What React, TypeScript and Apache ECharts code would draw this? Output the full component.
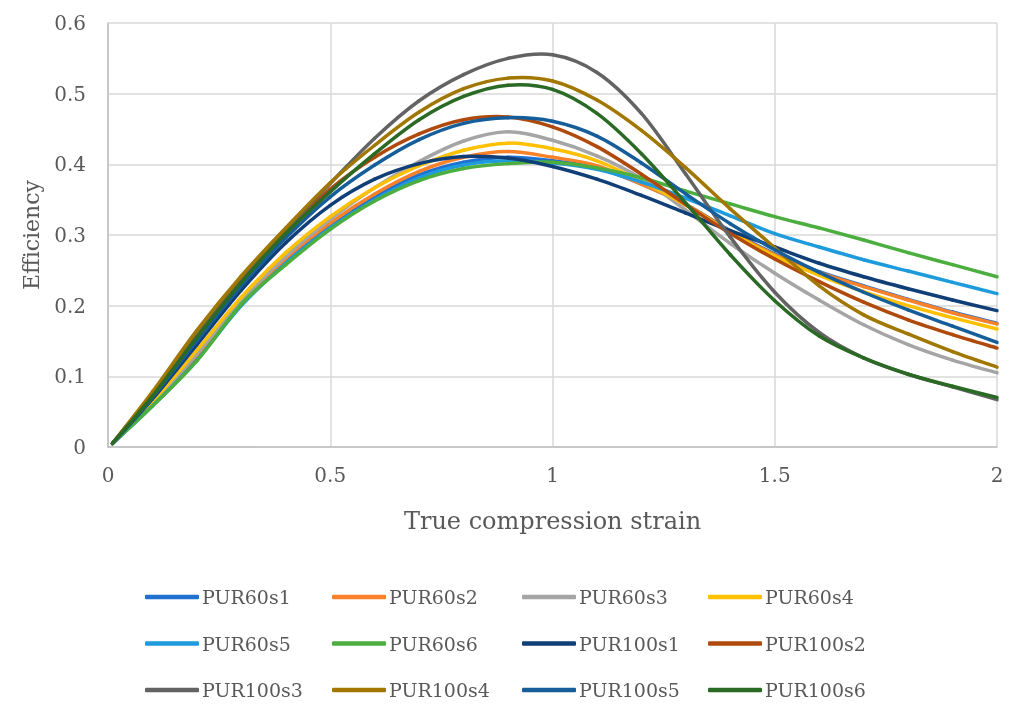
import React, { useEffect, useRef } from "react";
import * as echarts from "echarts";

const strain = [0.01, 0.1, 0.2, 0.3, 0.4, 0.5, 0.6, 0.7, 0.8, 0.9, 1.0, 1.1, 1.2, 1.3, 1.4, 1.5, 1.6, 1.7, 1.8, 1.9, 2.0];

const seriesNames = [
  "PUR60s1", "PUR60s2", "PUR60s3", "PUR60s4",
  "PUR60s5", "PUR60s6", "PUR100s1", "PUR100s2",
  "PUR100s3", "PUR100s4", "PUR100s5", "PUR100s6",
];

const colors = [
  "#2070D0", "#F8812A", "#A5A5A5", "#FFC000",
  "#1E9BDC", "#4BAE3E", "#103F78", "#B04A0C",
  "#636363", "#A17700", "#165E9A", "#2A6A25",
];

const pur60s1 = [0.005, 0.06, 0.127, 0.203, 0.264, 0.314, 0.354, 0.385, 0.403, 0.41, 0.405, 0.395, 0.372, 0.343, 0.306, 0.273, 0.248, 0.228, 0.209, 0.191, 0.175];
const pur60s2 = [0.005, 0.061, 0.13, 0.205, 0.267, 0.317, 0.358, 0.39, 0.41, 0.418, 0.41, 0.398, 0.372, 0.343, 0.305, 0.272, 0.247, 0.227, 0.208, 0.19, 0.174];
const pur60s3 = [0.005, 0.062, 0.132, 0.207, 0.27, 0.322, 0.367, 0.404, 0.433, 0.446, 0.434, 0.412, 0.38, 0.335, 0.288, 0.246, 0.208, 0.173, 0.145, 0.123, 0.105];
const pur60s4 = [0.005, 0.064, 0.137, 0.212, 0.275, 0.326, 0.367, 0.398, 0.42, 0.43, 0.422, 0.405, 0.376, 0.342, 0.304, 0.27, 0.243, 0.22, 0.2, 0.183, 0.167];
const pur60s5 = [0.005, 0.058, 0.123, 0.2, 0.26, 0.31, 0.35, 0.381, 0.399, 0.405, 0.402, 0.393, 0.375, 0.352, 0.327, 0.302, 0.283, 0.265, 0.249, 0.233, 0.217];
const pur60s6 = [0.005, 0.058, 0.122, 0.202, 0.258, 0.308, 0.348, 0.377, 0.394, 0.401, 0.403, 0.395, 0.381, 0.362, 0.344, 0.326, 0.31, 0.293, 0.275, 0.258, 0.241];
const pur100s1 = [0.005, 0.068, 0.145, 0.222, 0.289, 0.342, 0.379, 0.401, 0.411, 0.409, 0.397, 0.379, 0.356, 0.331, 0.306, 0.283, 0.26, 0.241, 0.224, 0.208, 0.193];
const pur100s2 = [0.005, 0.075, 0.16, 0.237, 0.305, 0.365, 0.41, 0.443, 0.463, 0.467, 0.453, 0.425, 0.386, 0.343, 0.302, 0.266, 0.234, 0.205, 0.18, 0.159, 0.14];
const pur100s3 = [0.005, 0.076, 0.163, 0.24, 0.308, 0.373, 0.437, 0.49, 0.527, 0.55, 0.555, 0.53, 0.472, 0.386, 0.297, 0.219, 0.162, 0.126, 0.103, 0.085, 0.067];
const pur100s4 = [0.005, 0.078, 0.165, 0.242, 0.31, 0.374, 0.427, 0.474, 0.507, 0.522, 0.518, 0.491, 0.448, 0.395, 0.337, 0.282, 0.228, 0.187, 0.16, 0.135, 0.113];
const pur100s5 = [0.005, 0.07, 0.15, 0.228, 0.296, 0.354, 0.399, 0.435, 0.458, 0.466, 0.461, 0.44, 0.402, 0.358, 0.316, 0.279, 0.247, 0.219, 0.194, 0.171, 0.148];
const pur100s6 = [0.005, 0.072, 0.155, 0.233, 0.302, 0.361, 0.415, 0.463, 0.496, 0.512, 0.506, 0.472, 0.415, 0.345, 0.272, 0.207, 0.157, 0.126, 0.103, 0.086, 0.07];

const allValues = [pur60s1, pur60s2, pur60s3, pur60s4, pur60s5, pur60s6, pur100s1, pur100s2, pur100s3, pur100s4, pur100s5, pur100s6];

const xTicks = [0, 0.5, 1, 1.5, 2];
const yTicks = [0, 0.1, 0.2, 0.3, 0.4, 0.5, 0.6];

const FONT = "DejaVu Serif";
const TEXT = "#595959";

export default function App() {
  const ref = useRef<HTMLDivElement>(null);
  useEffect(() => {
    if (!ref.current) return;
    const chart = echarts.init(ref.current, undefined, { renderer: "svg" });
    const colLeft = [140, 327, 517, 703];
    const legends = colLeft.map((left, c) => ({
      orient: "vertical",
      left,
      top: 582,
      height: 160,
      icon: "roundRect",
      itemWidth: 54,
      itemHeight: 4.5,
      itemGap: 26.5,
      data: [seriesNames[c], seriesNames[c + 4], seriesNames[c + 8]],
      textStyle: { fontFamily: FONT, fontSize: 19, lineHeight: 20, color: TEXT, padding: [0, 0, 0, -2] },
    }));

    const makeRender = (si: number) => (params: any, api: any) => {
      const j = params.dataIndex;
      const vals = allValues[si];
      const n = strain.length;
      if (j >= n - 1) return null;
      const p = (k: number) => {
        const kk = Math.max(0, Math.min(n - 1, k));
        return api.coord([strain[kk], vals[kk]]);
      };
      const p0 = p(j - 1), p1 = p(j), p2 = p(j + 1), p3 = p(j + 2);
      const c1 = [p1[0] + (p2[0] - p0[0]) / 6, p1[1] + (p2[1] - p0[1]) / 6];
      const c2 = [p2[0] - (p3[0] - p1[0]) / 6, p2[1] - (p3[1] - p1[1]) / 6];
      const d = `M${p1[0]},${p1[1]} C${c1[0]},${c1[1]} ${c2[0]},${c2[1]} ${p2[0]},${p2[1]}`;
      return {
        type: "path",
        shape: { pathData: d },
        style: { stroke: colors[si], lineWidth: 3.5, fill: null, lineCap: "round", lineJoin: "round" },
      };
    };

    chart.setOption({
      animation: false,
      color: colors,
      grid: { left: 108, right: 19, top: 23, bottom: 262, containLabel: false },
      legend: legends,
      xAxis: {
        type: "value",
        min: xTicks[0],
        max: xTicks[xTicks.length - 1],
        interval: 0.5,
        name: "True compression strain",
        nameLocation: "middle",
        nameGap: 62,
        nameTextStyle: { fontFamily: FONT, fontSize: 24, color: TEXT },
        axisLine: { lineStyle: { color: "#BFBFBF", width: 1.5 } },
        axisTick: { show: false },
        axisLabel: { fontFamily: FONT, fontSize: 20, color: TEXT, margin: 18 },
        splitLine: { lineStyle: { color: "#D9D9D9", width: 1.5 } },
      },
      yAxis: {
        type: "value",
        min: yTicks[0],
        max: yTicks[yTicks.length - 1],
        interval: 0.1,
        name: "Efficiency",
        nameLocation: "middle",
        nameGap: 66,
        nameTextStyle: { fontFamily: FONT, fontSize: 22, color: TEXT },
        axisLine: { show: true, lineStyle: { color: "#BFBFBF", width: 1.5 } },
        axisTick: { show: false },
        axisLabel: { fontFamily: FONT, fontSize: 20, color: TEXT, margin: 22 },
        splitLine: { lineStyle: { color: "#D9D9D9", width: 1.5 } },
      },
      series: seriesNames.map((name, i) => ({
        name,
        type: "custom",
        renderItem: makeRender(i),
        itemStyle: { color: colors[i] },
        encode: { x: 0, y: 1 },
        data: strain.map((x, j) => [x, allValues[i][j]]),
        z: 2 + i * 0.01,
      })),
    });
    return () => chart.dispose();
  }, []);
  return <div ref={ref} style={{ position: "fixed", left: 0, top: 0, width: 1016, height: 709 }} />;
}
